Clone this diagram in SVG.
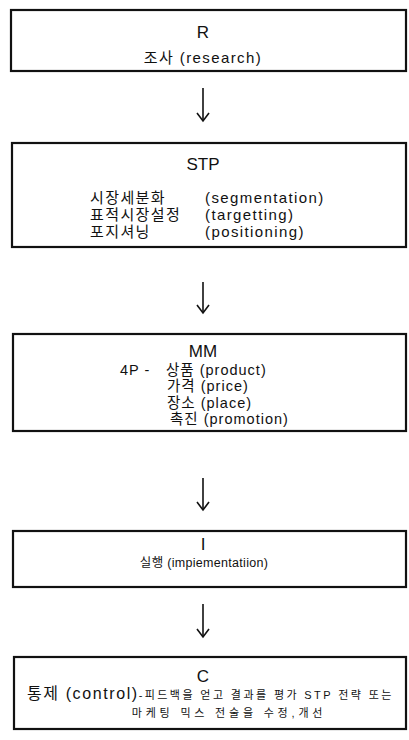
<svg xmlns="http://www.w3.org/2000/svg" width="409" height="740" viewBox="0 0 409 740">
<defs>
<style>
.box{fill:#fff;stroke:#111;stroke-width:2.2}
.t{font-family:"Liberation Sans","Noto Sans CJK KR",sans-serif;fill:#111}
.h{font-size:17px;text-anchor:middle}
.b{font-size:15px;letter-spacing:1.4px}
.m{font-size:14.5px;letter-spacing:1px}
.arr{stroke:#111;stroke-width:1.6;fill:none}
</style>
</defs>
<rect width="409" height="740" fill="#fff"/>
<g id="connectors">
<line class="arr" x1="203" y1="88" x2="203" y2="120"/>
<path class="arr" d="M197,113 L203,121 L209,113"/>
<line class="arr" x1="203" y1="282" x2="203" y2="312"/>
<path class="arr" d="M197,305 L203,313 L209,305"/>
<line class="arr" x1="203" y1="478" x2="203" y2="509"/>
<path class="arr" d="M197,502 L203,510 L209,502"/>
<line class="arr" x1="203" y1="604" x2="203" y2="636"/>
<path class="arr" d="M197,629 L203,637 L209,629"/>
</g>
<g id="node-R">
<rect class="box" x="11" y="10" width="395" height="61"/>
<text class="t h" x="203" y="38">R</text>
<text class="t b" x="203" y="63" text-anchor="middle">조사 (research)</text>
</g>
<g id="node-STP">
<rect class="box" x="12" y="143" width="394" height="104"/>
<text class="t h" x="203" y="170">STP</text>
<text class="t b" x="90" y="203">시장세분화</text>
<text class="t b" x="205" y="203">(segmentation)</text>
<text class="t b" x="90" y="220">표적시장설정</text>
<text class="t b" x="205" y="220">(targetting)</text>
<text class="t b" x="90" y="237">포지셔닝</text>
<text class="t b" x="205" y="237">(positioning)</text>
</g>
<g id="node-MM">
<rect class="box" x="13" y="334" width="393" height="97"/>
<text class="t h" x="203" y="357">MM</text>
<text class="t m" x="120" y="375">4P -</text>
<text class="t m" x="166" y="375">상품 (product)</text>
<text class="t m" x="167" y="391">가격 (price)</text>
<text class="t m" x="167" y="408">장소 (place)</text>
<text class="t m" x="170" y="424">촉진 (promotion)</text>
</g>
<g id="node-I">
<rect class="box" x="13" y="531" width="393" height="56"/>
<text class="t h" x="203" y="550">I</text>
<text class="t" x="204" y="567" text-anchor="middle" font-size="12.5px" letter-spacing="0.3px">실행 (impiementatiion)</text>
</g>
<g id="node-C">
<rect class="box" x="14" y="657" width="392" height="72"/>
<text class="t h" x="203" y="682">C</text>
<text class="t" x="27" y="699"><tspan font-size="16px" letter-spacing="1.6px">통제 (control)</tspan><tspan font-size="11px" letter-spacing="2.4px">-피드백을 얻고 결과를 평가 STP 전략 또는</tspan></text>
<text class="t" x="229" y="717" text-anchor="middle" font-size="11px" letter-spacing="3.8px">마케팅 믹스 전술을 수정,개선</text>
</g>
</svg>
